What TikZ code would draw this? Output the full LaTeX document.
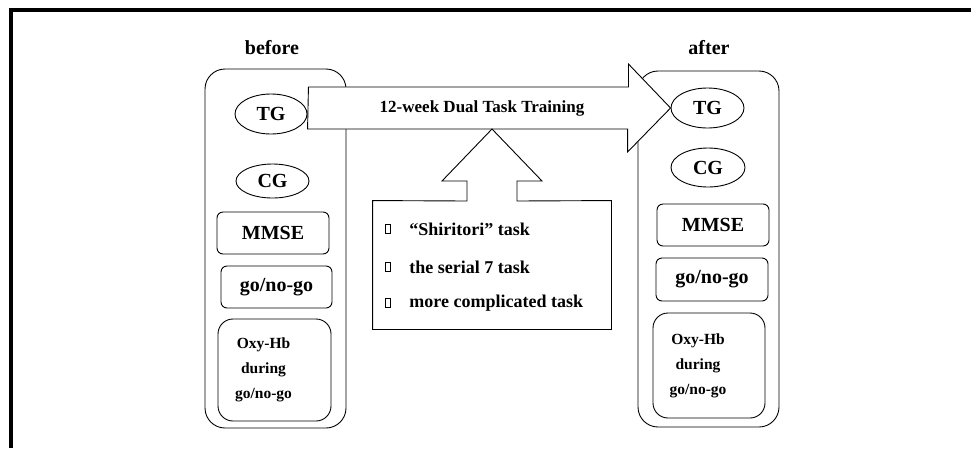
\documentclass[tikz,border=0pt]{standalone}
\usepackage{fontspec}
\setmainfont{Liberation Serif}
\usetikzlibrary{shapes.geometric}

\tikzset{
  group/.style={draw, rounded corners=20pt, inner sep=0pt},
  grp/.style={ellipse, draw, inner sep=0pt, font=\bfseries\fontsize{20}{22}\selectfont},
  meas/.style={draw, rounded corners=6pt, inner sep=0pt, font=\bfseries\fontsize{20}{22}\selectfont},
  oxy/.style={draw, rounded corners=15pt, inner sep=0pt},
  oxytext/.style={align=center, inner sep=0pt, font=\bfseries\fontsize{15.5}{25}\selectfont},
  head/.style={font=\bfseries\fontsize{20}{22}\selectfont},
  item/.style={anchor=west, inner sep=0pt, font=\bfseries\fontsize{18}{20}\selectfont},
  bullet/.style={draw, line width=1.4pt, inner sep=0pt, minimum width=5.5pt, minimum height=8.5pt},
}

\begin{document}
\begin{tikzpicture}[x=1pt, y=-1pt, line width=0.9pt]
  \useasboundingbox (0, 0) rectangle (971, 448);
  \draw[line width=4pt] (971, 10) -- (11, 10) -- (11, 448);

  % before
  \node[head] (before) at (272, 48) {before};
  \node[group, minimum width=141pt, minimum height=359pt] (beforebox) at (275.5, 248.5) {};
  \node[grp, minimum width=72pt, minimum height=40pt] (tgb) at (271, 114) {TG};
  \node[grp, minimum width=73pt, minimum height=34pt] (cgb) at (272.5, 181) {CG};
  \node[meas, minimum width=112pt, minimum height=42pt] (mmseb) at (273, 233) {MMSE};
  \node[meas, minimum width=111pt, minimum height=42pt] (gob) at (276.5, 287) {go/no-go};
  \node[oxy, minimum width=113pt, minimum height=102pt] (oxyb) at (274.5, 370) {};
  \node[oxytext] (oxybt) at ([xshift=-11pt]oxyb.center) {Oxy-Hb\\during\\go/no-go};

  % after
  \node[head] (after) at (709, 48) {after};
  \node[group, minimum width=141pt, minimum height=356pt] (afterbox) at (708.5, 249) {};
  \node[grp, minimum width=73pt, minimum height=40pt] (tga) at (707.5, 108) {TG};
  \node[grp, minimum width=74pt, minimum height=39pt] (cga) at (708, 167.5) {CG};
  \node[meas, minimum width=112pt, minimum height=42pt] (mmsea) at (713, 225) {MMSE};
  \node[meas, minimum width=112pt, minimum height=43pt] (goa) at (712, 279.5) {go/no-go};
  \node[oxy, minimum width=112pt, minimum height=105pt] (oxya) at (709, 365.5) {};
  \node[oxytext] (oxyat) at ([xshift=-11pt]oxya.center) {Oxy-Hb\\during\\go/no-go};

  % training arrow
  \draw[fill=white] (tgb.east |- tga.west) ++(1, -21) -- ++(320, 0) -- ++(0, -23)
    -- (tga.west) -- ++(-43, 44) -- ++(0, -23) -- ++(-320, 0) -- cycle;
  \node[item, anchor=center, font=\bfseries\fontsize{17}{19}\selectfont] (training) at (482, 108) {12-week Dual Task Training};

  % tasks
  \node[minimum width=238pt, minimum height=128pt, inner sep=0pt] (tasks) at (492, 265) {};
  \draw (tasks.north west) -- (467, 201) -- (467, 181) -- (442, 181) -- (492, 129)
    -- (542, 181) -- (517, 181) -- (517, 201) -- (tasks.north east)
    -- (tasks.south east) -- (tasks.south west) -- cycle;
  \foreach \y/\txt [count=\i] in {229/{“Shiritori” task}, 267/{the serial 7 task},
      303/{more complicated task}} {
    \node[bullet] (b\i) at (388, \y) {};
    \node[item] (t\i) at (409, \y) {\txt};
  }
\end{tikzpicture}
\end{document}
